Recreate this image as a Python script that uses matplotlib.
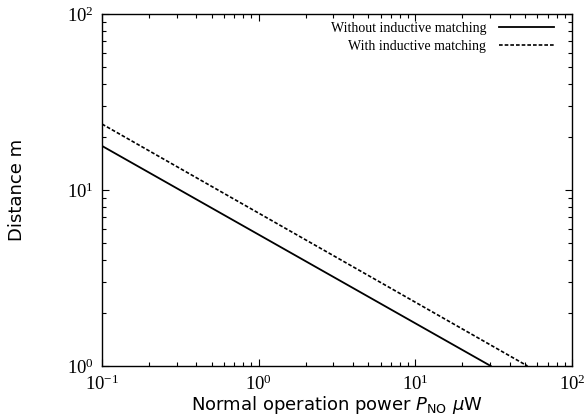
import matplotlib
matplotlib.use("Agg")
import matplotlib.pyplot as plt
from matplotlib.ticker import LogLocator, NullFormatter

# Operating range end points (power in uW, distance in m)
power_without = [0.1, 30.3]
distance_without = [17.8, 1.0]
power_with = [0.1, 52.0]
distance_with = [23.7, 1.0]

series_labels = ["Without inductive matching", "With inductive matching"]

fig = plt.figure(figsize=(5.84, 4.19), dpi=100)
ax = fig.add_axes([102 / 584, 1 - 366 / 419, 470 / 584, 352 / 419])

ax.plot(power_without, distance_without, color="black", lw=1.3, ls="-",
        label=series_labels[0])
ax.plot(power_with, distance_with, color="black", lw=1.2, ls=(0, (2.2, 1.2)),
        label=series_labels[1])

ax.set_xscale("log")
ax.set_yscale("log")
ax.set_xlim(0.1, 100)
ax.set_ylim(1, 100)

serif = ["Liberation Serif", "DejaVu Serif"]
ax.xaxis.set_major_locator(LogLocator(base=10, numticks=10))
ax.yaxis.set_major_locator(LogLocator(base=10, numticks=10))
ax.xaxis.set_minor_locator(LogLocator(base=10, subs=range(2, 10), numticks=20))
ax.yaxis.set_minor_locator(LogLocator(base=10, subs=range(2, 10), numticks=20))
ax.xaxis.set_minor_formatter(NullFormatter())
ax.yaxis.set_minor_formatter(NullFormatter())
ax.tick_params(which="both", direction="in", top=True, right=True, width=0.8)
ax.tick_params(which="major", length=5, labelsize=13.5, pad=6)
ax.tick_params(which="minor", length=3)
for lab in ax.get_xticklabels() + ax.get_yticklabels():
    lab.set_family(serif)
for s in ax.spines.values():
    s.set_linewidth(1.0)

ax.set_xlabel(r"Normal operation power $P_{\rm NO}$ $\mu$W", fontsize=13,
              labelpad=0)
ax.set_ylabel("Distance m", fontsize=13, labelpad=29)

leg = ax.legend(loc="upper right", bbox_to_anchor=(0.962, 0.978),
                frameon=False, markerfirst=False,
                prop={"family": serif, "size": 10}, handlelength=4.0,
                handletextpad=0.9, borderaxespad=0.0, borderpad=0.0,
                labelspacing=0.38)
for t in leg.get_texts():
    t.set_ha("right")
leg._legend_box.align = "right"

fig.savefig("out.png", dpi=100)
